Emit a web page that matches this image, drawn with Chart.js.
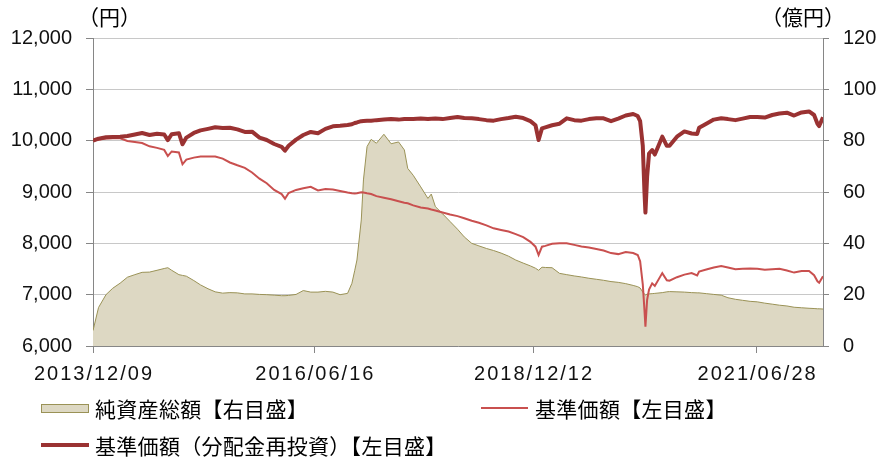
<!DOCTYPE html>
<html>
<head>
<meta charset="utf-8">
<title>基準価額・純資産総額の推移</title>
<style>
  body { margin: 0; background: #fff; }
  #wrap { position: relative; width: 879px; height: 460px; font-family: "Noto Sans CJK JP", sans-serif; color: #000; }
  #wrap canvas { position: absolute; left: 0; top: 0; }
  .unit { position: absolute; top: 3px; font-size: 21px; line-height: 26px; }
  .lg { position: absolute; font-size: 21px; line-height: 26px; white-space: nowrap; letter-spacing: 0.3px; }
  .sw { position: absolute; }
</style>
<script src="https://cdn.jsdelivr.net/npm/chart.js@4.4.0/dist/chart.umd.min.js"></script>
</head>
<body>
<div id="wrap">
  <canvas id="Chart" width="879" height="460"></canvas>
  <div class="unit" style="left:78px">（円）</div>
  <div class="unit" style="left:761px">（億円）</div>

  <div class="sw" style="left:41px;top:404px;width:46px;height:7px;background:#ddd8c3;border:1px solid #9a9256"></div>
  <div class="lg" style="left:95px;top:395px">純資産総額【右目盛】</div>

  <div class="sw" style="left:481px;top:407px;width:47px;height:2px;background:#c9504f"></div>
  <div class="lg" style="left:535px;top:395px">基準価額【左目盛】</div>

  <div class="sw" style="left:41px;top:443px;width:48px;height:4px;background:#9a3232"></div>
  <div class="lg" style="left:95px;top:432px">基準価額（分配金再投資）【左目盛】</div>
</div>
<script>
// dates of the sampled points
var dates = [
  '2013/12/09','2014/01/01','2014/02/01','2014/03/01','2014/04/01','2014/05/01','2014/06/01','2014/07/01',
  '2014/08/01','2014/09/01','2014/10/01','2014/10/16','2014/11/01','2014/12/01','2014/12/16','2015/01/01',
  '2015/02/01','2015/03/01','2015/04/01','2015/05/01','2015/06/01','2015/07/01','2015/08/01','2015/09/01',
  '2015/10/01','2015/11/01','2015/12/01','2016/01/01','2016/02/01','2016/02/15','2016/03/01','2016/04/01',
  '2016/05/01','2016/06/01','2016/07/01','2016/08/01','2016/09/01','2016/10/01','2016/11/01','2016/11/19',
  '2016/12/01','2016/12/10','2016/12/28','2017/01/06','2017/01/21','2017/02/07','2017/03/01','2017/04/01',
  '2017/05/01','2017/06/01','2017/06/25','2017/07/09','2017/08/01','2017/09/01','2017/10/01','2017/10/15',
  '2017/11/01','2017/12/01','2018/01/01','2018/02/01','2018/03/01','2018/04/01','2018/05/01','2018/06/01',
  '2018/07/01','2018/08/01','2018/09/01','2018/10/01','2018/11/01','2018/12/01','2018/12/22','2019/01/04',
  '2019/01/18','2019/02/01','2019/03/01','2019/04/01','2019/05/01','2019/06/01','2019/07/01','2019/08/01',
  '2019/09/01','2019/10/01','2019/11/01','2019/12/01','2020/01/01','2020/02/01','2020/02/20','2020/03/01',
  '2020/03/12','2020/03/19','2020/03/23','2020/03/30','2020/04/07','2020/04/20','2020/05/01','2020/06/01',
  '2020/06/20','2020/07/01','2020/08/01','2020/09/01','2020/10/01','2020/10/24','2020/11/01','2020/12/01',
  '2021/01/01','2021/02/01','2021/03/01','2021/04/01','2021/05/01','2021/06/01','2021/07/01','2021/08/01',
  '2021/09/01','2021/10/01','2021/11/01','2021/12/01','2022/01/01','2022/02/01','2022/02/22','2022/03/08',
  '2022/03/15','2022/03/31'
];

// 基準価額（分配金再投資） 円
var navReinvest = [
  10000,10040,10066,10070,10075,10090,10120,10150,
  10110,10135,10120,10010,10125,10145,9930,10060,
  10150,10200,10230,10260,10245,10250,10220,10170,
  10175,10060,10013,9935,9880,9805,9900,10020,
  10110,10170,10145,10230,10280,10290,10305,10320,
  10345,10355,10380,10385,10390,10390,10400,10410,
  10420,10410,10420,10420,10420,10430,10420,10425,
  10430,10420,10440,10460,10440,10435,10420,10400,
  10390,10420,10440,10465,10440,10380,10300,10013,
  10240,10260,10300,10330,10435,10400,10390,10420,
  10435,10435,10380,10430,10490,10520,10480,10380,
  9900,9000,8600,9300,9750,9818,9730,10078,
  9900,9900,10078,10180,10140,10130,10250,10330,
  10410,10435,10420,10400,10430,10460,10460,10450,
  10500,10530,10545,10490,10550,10570,10500,10330,
  10285,10455
];

// 基準価額 円
var nav = [
  10000,10020,10040,10045,10045,9995,9975,9955,
  9890,9860,9820,9700,9790,9770,9540,9630,
  9670,9690,9690,9690,9650,9575,9520,9470,
  9380,9260,9170,9040,8960,8870,8980,9040,
  9072,9100,9030,9060,9047,9020,8990,8975,
  8970,8975,8995,8990,8975,8960,8920,8890,
  8860,8820,8790,8780,8740,8700,8680,8660,
  8640,8600,8560,8530,8490,8440,8400,8350,
  8292,8260,8230,8180,8120,8030,7935,7773,
  7935,7950,7990,8000,8000,7970,7940,7920,
  7890,7860,7810,7790,7830,7810,7773,7650,
  7200,6700,6376,6900,7100,7220,7170,7420,
  7280,7272,7340,7390,7420,7376,7450,7490,
  7530,7560,7530,7495,7505,7510,7505,7485,
  7495,7505,7470,7430,7460,7460,7380,7260,
  7233,7360
];

// 純資産総額 億円
var netAssets = [
  6,15,20,22.5,24.5,26.8,27.8,28.7,
  28.8,29.5,30.2,30.5,29.5,27.8,27.5,27.2,
  25.5,23.8,22.3,21.1,20.6,20.8,20.7,20.3,
  20.3,20.1,20.0,19.8,19.6,19.6,19.7,20.1,
  21.6,21.0,21.0,21.3,21.0,20.0,20.5,24.4,
  29.5,33.5,49.1,64.7,77.7,80.5,79,82.5,
  78.8,79.5,76.4,69.2,66.5,62,57.5,59.2,
  54.3,51.5,48.5,45.5,42.5,40,39,38,
  37.2,36.2,35,33.5,32.3,31.2,30.3,29.5,
  30.7,30.6,30.5,28.3,27.8,27.3,26.9,26.4,
  26,25.6,25.1,24.8,24.3,23.6,23.1,22.6,
  21.0,20.2,19.9,20.2,20.3,20.4,20.5,20.8,
  21.1,21.2,21.1,21.0,20.8,20.7,20.7,20.4,
  20.1,19.8,18.8,18.2,17.8,17.4,17.2,16.7,
  16.3,15.9,15.6,15.1,14.9,14.7,14.6,14.5,
  14.5,14.4
];

var tickLabels = ['2013/12/09', '2016/06/16', '2018/12/12', '2021/06/28'];

function dayNum(s) {
  var p = s.split('/');
  return Date.UTC(+p[0], +p[1] - 1, +p[2]) / 86400000;
}
function points(values) {
  return values.map(function(v, i) { return { x: dayNum(dates[i]), y: v }; });
}

var tickFont = { family: '"Liberation Sans", Arial, sans-serif', size: 20 };
var gridGray = '#c8c8c8';
var axisGray = '#868686';

// date labels under the x axis, drawn a bit wider than the default font
var xLabels = {
  id: 'xLabels',
  afterDraw: function(chart) {
    var sc = chart.scales.x, c = chart.ctx;
    c.save();
    c.font = '20px "Liberation Sans", Arial, sans-serif';
    c.letterSpacing = '2px';
    c.fillStyle = '#111';
    c.textAlign = 'center';
    c.textBaseline = 'middle';
    tickLabels.forEach(function(t) {
      c.fillText(t, sc.getPixelForValue(dayNum(t)) + 1, sc.top + 28);
    });
    c.restore();
  }
};

var ctx = document.getElementById('Chart').getContext('2d');
var chart = new Chart(ctx, {
  type: 'line',
  data: {
    datasets: [
      {
        label: '基準価額（分配金再投資）【左目盛】',
        data: points(navReinvest),
        yAxisID: 'y',
        borderColor: '#9a3232',
        borderWidth: 4,
        borderJoinStyle: 'round',
        pointRadius: 0,
        tension: 0,
        fill: false,
        order: 1
      },
      {
        label: '基準価額【左目盛】',
        data: points(nav),
        yAxisID: 'y',
        borderColor: '#c9504f',
        borderWidth: 2,
        pointRadius: 0,
        tension: 0,
        fill: false,
        order: 2
      },
      {
        label: '純資産総額【右目盛】',
        data: points(netAssets),
        yAxisID: 'y1',
        borderColor: '#9a9256',
        backgroundColor: '#ddd8c3',
        borderWidth: 1,
        pointRadius: 0,
        tension: 0,
        fill: 'origin',
        order: 3
      }
    ]
  },
  options: {
    responsive: false,
    animation: false,
    layout: { padding: { top: 38, left: 0, right: 0, bottom: 0 } },
    plugins: { legend: { display: false }, tooltip: { enabled: false } },
    scales: {
      x: {
        type: 'linear',
        min: dayNum('2013/12/09'),
        max: dayNum('2022/03/31'),
        afterBuildTicks: function(scale) {
          scale.ticks = tickLabels.map(function(t) { return { value: dayNum(t) }; });
        },
        afterFit: function(scale) { scale.height = 114; },
        ticks: {
          autoSkip: false,
          maxRotation: 0,
          padding: 9,
          color: 'rgba(0,0,0,0)',
          font: tickFont,
          callback: function(value) {
            for (var i = 0; i < tickLabels.length; i++) {
              if (dayNum(tickLabels[i]) === value) return tickLabels[i];
            }
            return '';
          }
        },
        grid: { drawOnChartArea: false, tickLength: 7, tickColor: axisGray },
        border: { color: axisGray, width: 1 }
      },
      y: {
        position: 'left',
        min: 6000,
        max: 12000,
        afterFit: function(scale) { scale.width = 93; },
        ticks: {
          stepSize: 1000,
          padding: 14,
          color: '#111',
          font: tickFont,
          callback: function(v) { return v.toLocaleString('en-US'); }
        },
        grid: { color: gridGray, tickLength: 7, tickColor: axisGray },
        border: { color: axisGray, width: 1 }
      },
      y1: {
        position: 'right',
        min: 0,
        max: 120,
        afterFit: function(scale) { scale.width = 56; },
        ticks: { stepSize: 20, padding: 14, color: '#111', font: tickFont },
        grid: { drawOnChartArea: false, tickLength: 6, tickColor: axisGray },
        border: { color: axisGray, width: 1 }
      }
    }
  },
  plugins: [xLabels]
});
</script>
</body>
</html>
